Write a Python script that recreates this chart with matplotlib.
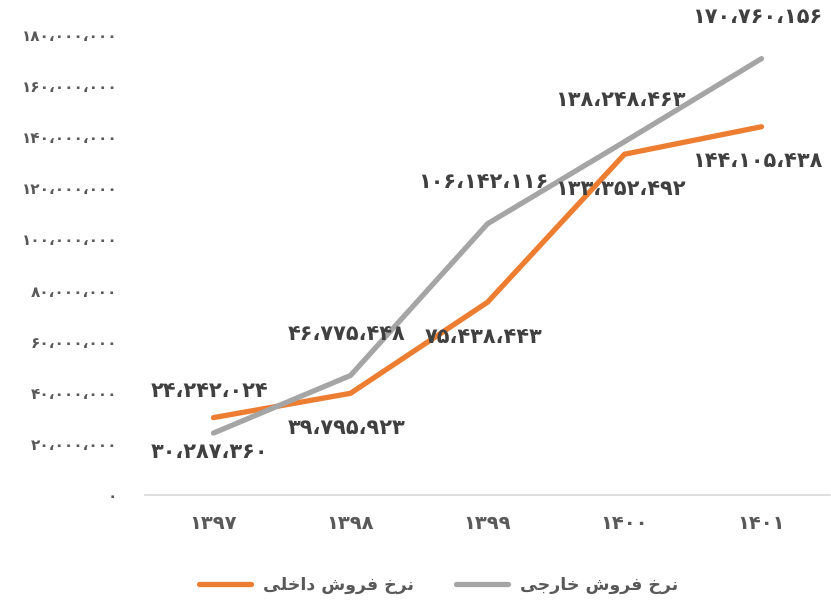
import matplotlib
matplotlib.use("Agg")
import matplotlib.pyplot as plt
from matplotlib.ticker import FuncFormatter, MultipleLocator

# data
years = ["۱۳۹۷", "۱۳۹۸", "۱۳۹۹", "۱۴۰۰", "۱۴۰۱"]
domestic = [30287360, 39795923, 75438443, 133352492, 144105438]
foreign = [24242024, 46775448, 106142116, 138248463, 170760156]
label_domestic = "نرخ فروش داخلی"
label_foreign = "نرخ فروش خارجی"

ORANGE = "#ED7D31"
GRAY = "#A5A5A5"
TXT = "#595959"
LBL = "#404040"

# matplotlib has no arabic shaping -> pick presentation forms by hand
FORMS = {
    "ن": "\uFEE5\uFEE6\uFEE7\uFEE8",
    "ر": "\uFEAD\uFEAE\uFEAD\uFEAE",
    "خ": "\uFEA5\uFEA6\uFEA7\uFEA8",
    "ف": "\uFED1\uFED2\uFED3\uFED4",
    "و": "\uFEED\uFEEE\uFEED\uFEEE",
    "ش": "\uFEB5\uFEB6\uFEB7\uFEB8",
    "د": "\uFEA9\uFEAA\uFEA9\uFEAA",
    "ا": "\uFE8D\uFE8E\uFE8D\uFE8E",
    "ل": "\uFEDD\uFEDE\uFEDF\uFEE0",
    "ی": "\uFEEF\uFEF0\uFEF3\uFEF4",
    "ج": "\uFE9D\uFE9E\uFE9F\uFEA0",
}
RIGHT_ONLY = set("ادذرزژو")


def shape(s):
    out = []
    for i, ch in enumerate(s):
        if ch not in FORMS:
            out.append(ch)
            continue
        prev = s[i - 1] if i > 0 else ""
        nxt = s[i + 1] if i + 1 < len(s) else ""
        jp = prev in FORMS and prev not in RIGHT_ONLY
        jn = nxt in FORMS and ch not in RIGHT_ONLY
        if jp and jn:
            k = 3
        elif jp:
            k = 1
        elif jn:
            k = 2
        else:
            k = 0
        out.append(FORMS[ch][k])
    return "".join(out[::-1])


def fa_num(v):
    s = f"{int(v):,}".replace(",", "،")
    return s.translate(str.maketrans("0123456789", "۰۱۲۳۴۵۶۷۸۹"))


plt.rcParams["font.family"] = ["DejaVu Sans"]

fig = plt.figure(figsize=(8.31, 6.10), dpi=100)
ax = fig.add_axes([0.1745, 0.1885, 0.8243, 0.7541])

x = range(len(years))
ax.plot(x, domestic, color=ORANGE, lw=3.8, solid_capstyle="round",
        label=shape(label_domestic))
ax.plot(x, foreign, color=GRAY, lw=3.8, solid_capstyle="round",
        label=shape(label_foreign))

for i in x:
    ax.annotate(fa_num(foreign[i]), (i, foreign[i]), xytext=(-3, 30),
                textcoords="offset points", ha="center", va="center",
                fontsize=15, fontweight="bold", color=LBL)
    ax.annotate(fa_num(domestic[i]), (i, domestic[i]), xytext=(-3, -25),
                textcoords="offset points", ha="center", va="center",
                fontsize=15, fontweight="bold", color=LBL)

ax.set_xlim(-0.5, 4.5)
ax.set_ylim(0, 180000000)
ax.yaxis.set_major_locator(MultipleLocator(20000000))
ax.yaxis.set_major_formatter(FuncFormatter(lambda v, p: fa_num(v)))
ax.set_xticks(list(x))
ax.set_xticklabels(years)

for sp in ["left", "right", "top"]:
    ax.spines[sp].set_visible(False)
ax.spines["bottom"].set_color("#D9D9D9")
ax.spines["bottom"].set_linewidth(1.2)
ax.tick_params(axis="y", length=0, pad=20, labelsize=11, labelcolor=TXT)
ax.tick_params(axis="x", length=0, pad=14, labelsize=14, labelcolor=TXT)
for t in ax.get_yticklabels() + ax.get_xticklabels():
    t.set_fontweight("bold")

leg = fig.legend(loc="lower center", bbox_to_anchor=(0.528, 0.0), ncol=2,
                 frameon=False, fontsize=12.5, handlelength=3.0,
                 columnspacing=2.4, handletextpad=0.7)
for t in leg.get_texts():
    t.set_color(TXT)
    t.set_fontweight("bold")

fig.savefig("out.png", dpi=100)
